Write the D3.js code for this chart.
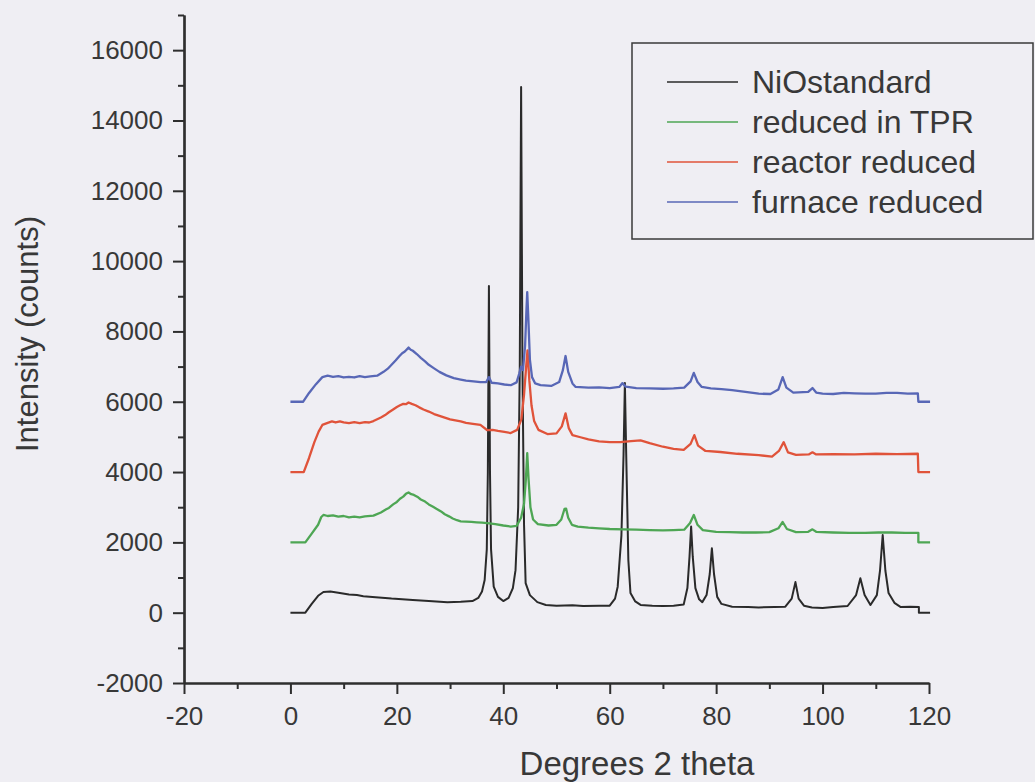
<!DOCTYPE html>
<html>
<head>
<meta charset="utf-8">
<script src="https://cdn.jsdelivr.net/npm/d3@7"></script>
<style>
  html, body { margin: 0; padding: 0; background: #efeef3; }
  svg { display: block; font-family: "Liberation Sans", Arial, Helvetica, sans-serif; }
</style>
</head>
<body>
<svg id="chart" width="1035" height="782"></svg>
<script>
// XRD patterns: [2θ (degrees), intensity (counts)], each pattern offset by 2000 counts
const seriesNames = ["NiOstandard", "reduced in TPR", "reactor reduced", "furnace reduced"];
const seriesColors = ["#2a2a2a", "#4ea654", "#e0533a", "#5867b6"];

const niOStandard = [
  [0,0],[2.8,0],[4,250],[5.2,480],[6.2,590],[7.5,600],[9,570],[11,520],[12.5,500],[13.7,470],[16,440],
  [19,400],[21,385],[23,360],[26,330],[29.5,300],[32,310],[34.2,330],[35.3,420],[36.0,600],[36.5,930],
  [36.9,1800],[37.1,4000],[37.3,9290],[37.5,4000],[37.7,1800],[38.2,740],[39,450],[40,330],
  [41,420],[41.8,700],[42.3,1210],[42.8,3000],[43.1,7000],[43.35,14950],[43.6,7000],[43.9,2500],
  [44.2,840],[45,500],[46.4,300],[48,220],[50,200],[53,210],[55,190],[58,200],[60,200],[61,400],[61.5,740],
  [62.2,2200],[62.6,4500],[62.85,6530],[63.1,4500],[63.5,1500],[63.9,560],[64.8,320],[65.8,220],
  [68,200],[70,190],[72,200],[73.9,230],[74.6,700],[75.0,1600],[75.3,2450],[75.6,1600],[76.1,700],[76.8,380],
  [77.4,300],[78.2,500],[78.8,1100],[79.2,1830],[79.6,1100],[80.2,450],[81,250],[83,170],
  [86,160],[88,150],[91,160],[93,170],[94.2,400],[94.9,870],[95.5,400],[96.5,200],[98,150],[100,130],[102,160],[104.7,190],
  [106.3,500],[107.1,980],[107.9,500],[109,220],[110.2,500],[110.8,1200],[111.3,2210],
  [111.8,1200],[112.4,560],[113.5,280],[114.7,160],[116.5,170],[118.1,160],[118.1,0],[120.2,0]
];

const reducedInTPR = [
  [0,2000],[2.8,2000],[4,2250],[5.2,2500],[5.8,2720],[6.2,2780],[7,2750],[8,2770],[9,2730],[10,2750],
  [11,2710],[12,2730],[13,2710],[14,2740],[15.6,2760],[17,2850],[18,2940],[18.5,2980],[19.3,3080],[20,3150],
  [20.6,3240],[21.2,3300],[21.7,3380],[22.2,3420],[22.7,3370],[23.2,3350],[24,3280],[24.5,3220],[25.3,3160],
  [26,3080],[26.8,3010],[27.5,2950],[28.3,2880],[29,2800],[29.8,2740],[30.5,2680],[31.3,2630],[32,2600],
  [33,2590],[34,2580],[35,2570],[36,2560],[37,2550],[38.5,2520],[40,2480],[41.4,2450],[42.5,2470],
  [43.35,2700],[43.9,3100],[44.25,3800],[44.5,4540],[44.75,3800],[45.1,3000],[45.6,2650],[46.5,2520],
  [48.5,2480],[50,2500],[50.9,2650],[51.5,2950],[51.8,2960],[52.2,2700],[52.9,2500],[54,2450],[56,2420],
  [58,2400],[60,2380],[62.5,2370],[65,2360],[67.5,2350],[70,2340],[72,2350],[74,2360],[75.1,2550],
  [75.8,2780],[76.5,2500],[77.5,2350],[80,2300],[82.5,2290],[85,2280],[87.5,2280],[90,2290],[91.7,2400],
  [92.5,2580],[93.3,2380],[95,2290],[97.3,2300],[98.1,2370],[98.8,2300],[102,2280],[105,2270],[108,2270],
  [110.5,2280],[113,2280],[115.5,2270],[118,2270],[118,2000],[120.2,2000]
];

const reactorReduced = [
  [0,4000],[2.5,4000],[3.5,4400],[4.5,4850],[5.3,5150],[6,5340],[7,5400],[7.8,5440],[8.5,5410],[9.3,5440],
  [10,5410],[11,5390],[12,5420],[13,5390],[14,5420],[14.8,5410],[15.6,5450],[17,5550],[17.8,5620],
  [18.5,5700],[19.3,5780],[20,5850],[20.6,5900],[21.2,5940],[21.7,5930],[22.2,5980],[22.8,5940],
  [23.5,5900],[24.2,5840],[25,5780],[26,5720],[27,5650],[28,5600],[29,5550],[30,5500],[31,5470],
  [32,5440],[33,5400],[34.3,5370],[35.7,5340],[37,5190],[38,5200],[39,5170],[40.2,5140],[41.4,5110],
  [42.6,5200],[43.4,5500],[43.9,6200],[44.3,7000],[44.55,7460],[44.9,6600],[45.3,5900],[45.8,5450],
  [46.6,5200],[48.3,5080],[50,5100],[51,5300],[51.7,5670],[52.3,5250],[53,5050],[54.5,4990],[56,4930],
  [58,4870],[60,4850],[62,4850],[64,4880],[65.8,4900],[67.5,4820],[70,4720],[72,4660],[73.9,4630],
  [75.2,4800],[75.9,5050],[76.6,4750],[78,4600],[80.8,4570],[84,4520],[88,4480],[90.5,4440],[91.8,4600],
  [92.7,4850],[93.5,4560],[95,4490],[97.4,4500],[98.1,4560],[98.8,4500],[102,4510],[106,4500],
  [110,4520],[114,4510],[117.9,4520],[118,4000],[120.2,4000]
];

const furnaceReduced = [
  [0,6000],[2.4,6000],[3.5,6250],[4.8,6500],[6,6700],[7,6740],[8,6710],[9,6730],[10,6690],[11,6710],
  [12,6690],[13,6730],[14,6700],[15,6720],[16.3,6740],[17.5,6850],[18.3,6940],[19,7050],[19.8,7180],
  [20.5,7300],[21,7380],[21.5,7430],[22.2,7540],[22.6,7480],[23,7450],[23.8,7350],[24.5,7250],
  [25.3,7150],[26,7050],[27,6950],[28,6850],[29.3,6750],[30.7,6670],[32,6630],[33,6600],[34.4,6580],
  [35.7,6560],[36.8,6560],[37.3,6700],[37.8,6540],[39,6520],[40.2,6490],[41.4,6470],[42.5,6550],
  [43.0,6800],[43.35,7000],[43.7,6900],[44.1,7600],[44.35,8600],[44.5,9120],[44.7,8400],[45,7200],
  [45.4,6700],[46,6520],[47,6470],[49,6450],[50.5,6560],[51.2,6900],[51.7,7300],[52.2,6850],[53,6520],
  [53.6,6420],[56,6400],[58,6410],[60,6390],[61.8,6420],[62.4,6530],[63,6430],[65,6390],[67.5,6380],
  [70,6370],[72,6380],[74,6400],[75.2,6580],[75.8,6820],[76.5,6560],[77.3,6420],[79,6380],[81,6360],
  [83,6330],[85.5,6280],[88,6230],[90.2,6220],[91.7,6350],[92.5,6700],[93.2,6400],[94.5,6260],
  [97.3,6280],[98.1,6390],[98.8,6260],[100,6230],[102,6220],[104,6250],[106,6240],[108,6230],[110,6230],
  [112,6250],[114,6250],[116,6230],[117.9,6240],[118,6000],[120.2,6000]
];

const seriesData = [niOStandard, reducedInTPR, reactorReduced, furnaceReduced];

const xMajorTicks = [-20, 0, 20, 40, 60, 80, 100, 120];
const xMinorTicks = [-10, 10, 30, 50, 70, 90, 110];
const yMajorTicks = [-2000, 0, 2000, 4000, 6000, 8000, 10000, 12000, 14000, 16000];
const yMinorTicks = [-1000, 1000, 3000, 5000, 7000, 9000, 11000, 13000, 15000, 17000];
const xTitle = "Degrees 2 theta";
const yTitle = "Intensity (counts)";

const svg = d3.select("#chart");
const x = d3.scaleLinear().domain([-20, 120]).range([184, 929]);
const y = d3.scaleLinear().domain([-2000, 17000]).range([683, 15]);

const ink = "#2e2e2e";
const labelInk = "#383838";

// Patterns, drawn first so the axes sit on top
const line = d3.line().x(d => x(d[0])).y(d => y(d[1]));
svg.append("g").selectAll("path")
  .data(seriesData)
  .join("path")
  .attr("d", line)
  .attr("fill", "none")
  .attr("stroke", (d, i) => seriesColors[i])
  .attr("stroke-width", (d, i) => i === 0 ? 2 : 2.3)
  .attr("stroke-linejoin", "round");

// Axes
function styleAxis(g) {
  g.select(".domain").attr("stroke", ink).attr("stroke-width", 2.2);
  g.selectAll(".tick line").attr("stroke", ink).attr("stroke-width", 2);
  g.selectAll(".tick text").attr("fill", labelInk)
    .style("font-size", "26px");
}

const gxMinor = svg.append("g").attr("transform", "translate(0,683)")
  .call(d3.axisBottom(x).tickValues(xMinorTicks).tickSize(6).tickSizeOuter(0).tickFormat(""));
styleAxis(gxMinor);
const gx = svg.append("g").attr("transform", "translate(0,683)")
  .call(d3.axisBottom(x).tickValues(xMajorTicks).tickSize(11).tickSizeOuter(0)
    .tickPadding(13).tickFormat(d => String(d)));
styleAxis(gx);

const gyMinor = svg.append("g").attr("transform", "translate(184,0)")
  .call(d3.axisLeft(y).tickValues(yMinorTicks).tickSize(6).tickSizeOuter(0).tickFormat(""));
styleAxis(gyMinor);
const gy = svg.append("g").attr("transform", "translate(184,0)")
  .call(d3.axisLeft(y).tickValues(yMajorTicks).tickSize(11).tickSizeOuter(0)
    .tickPadding(10).tickFormat(d => String(d)));
styleAxis(gy);

// Axis titles
svg.append("text")
  .attr("x", 637).attr("y", 775)
  .attr("text-anchor", "middle")
  .attr("fill", labelInk)
  .style("font-size", "33px")
  .text(xTitle);

svg.append("text")
  .attr("transform", "translate(38,334) rotate(-90)")
  .attr("text-anchor", "middle")
  .attr("fill", labelInk)
  .style("font-size", "31px")
  .text(yTitle);

// Legend
const legend = svg.append("g");
legend.append("rect")
  .attr("x", 632).attr("y", 43).attr("width", 401).attr("height", 196)
  .attr("fill", "none").attr("stroke", "#3a3a3a").attr("stroke-width", 1.5);

const rows = legend.selectAll("g.row")
  .data(seriesNames)
  .join("g")
  .attr("class", "row")
  .attr("transform", (d, i) => `translate(0,${82 + i * 40})`);

rows.append("line")
  .attr("x1", 667).attr("x2", 738).attr("y1", 0).attr("y2", 0)
  .attr("stroke", (d, i) => seriesColors[i])
  .attr("stroke-width", 1.6);

rows.append("text")
  .attr("x", 752).attr("y", 11)
  .attr("fill", labelInk)
  .style("font-size", "32px")
  .text(d => d);
</script>
</body>
</html>
